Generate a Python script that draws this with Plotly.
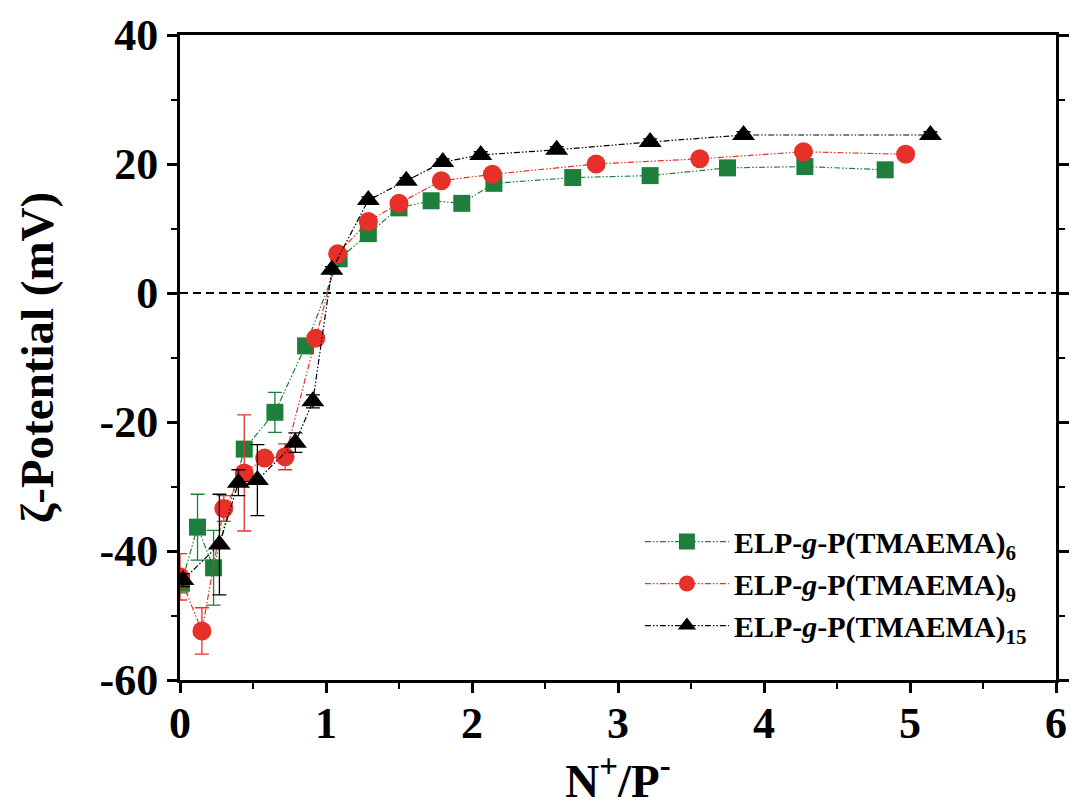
import plotly.graph_objects as go

# ---- data ----
x6 = [0.01, 0.12, 0.23, 0.44, 0.65, 0.86, 1.09, 1.29, 1.50, 1.72, 1.93, 2.15, 2.69, 3.22, 3.75, 4.28, 4.83]
y6 = [-45.0, -36.3, -42.6, -24.2, -18.5, -8.2, 5.3, 9.2, 13.2, 14.3, 13.9, 17.0, 17.9, 18.2, 19.4, 19.6, 19.1]
e6 = [1.5, 5.1, 5.8, 1.0, 3.1, 0.8, 0.5, 0.5, 0.5, 0.5, 0.5, 0.5, 0.5, 0.5, 0.5, 0.5, 0.5]

x9 = [0.00, 0.15, 0.30, 0.44, 0.58, 0.72, 0.93, 1.08, 1.29, 1.50, 1.79, 2.14, 2.85, 3.56, 4.27, 4.97]
y9 = [-44.0, -52.4, -33.4, -27.9, -25.6, -25.4, -7.0, 6.1, 11.1, 13.9, 17.4, 18.4, 20.0, 20.8, 21.9, 21.5]
e9 = [3.6, 3.6, 2.0, 9.0, 1.0, 2.0, 0.8, 0.5, 0.5, 0.5, 0.5, 0.5, 0.5, 0.5, 0.5, 0.5]

x15 = [0.02, 0.27, 0.40, 0.53, 0.79, 0.91, 1.04, 1.29, 1.55, 1.80, 2.06, 2.58, 3.22, 3.86, 5.14]
y15 = [-44.5, -39.0, -29.4, -29.0, -23.2, -16.8, 3.6, 14.4, 17.4, 20.3, 21.4, 22.2, 23.4, 24.5, 24.5]
e15 = [1.0, 7.8, 2.0, 5.5, 1.5, 1.0, 0.5, 0.5, 0.5, 0.5, 0.5, 0.5, 0.5, 0.5, 0.5]

names = ["ELP-<i>g</i>-P(TMAEMA)<sub>6</sub>",
         "ELP-<i>g</i>-P(TMAEMA)<sub>9</sub>",
         "ELP-<i>g</i>-P(TMAEMA)<sub>15</sub>"]

x_ticks = [0, 1, 2, 3, 4, 5, 6]
x_ticklabels = ["0", "1", "2", "3", "4", "5", "6"]
y_ticks = [-60, -40, -20, 0, 20, 40]
y_ticklabels = ["-60", "-40", "-20", "0", "20", "40"]

colors = ["#1e7f3c", "#e8302a", "#000000"]
symbols = ["square", "circle", "triangle-up"]
sizes = [17, 19, 20]

FONT = "Liberation Serif"

fig = go.Figure()
for xs, ys, es, nm, c, sym, sz in zip([x6, x9, x15], [y6, y9, y15], [e6, e9, e15],
                                      names, colors, symbols, sizes):
    fig.add_trace(go.Scatter(
        x=xs, y=ys, mode="lines+markers", name=nm,
        line=dict(color=c, width=1.2, dash="6px,2px,1.5px,2px,1.5px,2px"),
        marker=dict(symbol=sym, size=sz, color=c, line=dict(width=0)),
        error_y=dict(type="data", array=es, visible=True, color=c,
                     thickness=1.3, width=7),
    ))

fig.add_hline(y=0, line=dict(color="black", width=1.8, dash="8px,5px"), layer="below")

tickfont = dict(family=FONT, size=44, color="black", weight="bold")
titlefont = dict(family=FONT, size=47, color="black", weight="bold")

fig.update_xaxes(range=[0, 6], tickmode="array", tickvals=x_ticks,
                 ticktext=["<b>%s</b>" % t for t in x_ticklabels],
                 showline=True, linecolor="black", linewidth=3, mirror=True,
                 ticks="outside", ticklen=10, tickwidth=2.5, tickcolor="black",
                 showgrid=False, zeroline=False, tickfont=tickfont,
                 ticklabelstandoff=-8,
                 minor=dict(ticks="outside", ticklen=6, tickwidth=2, dtick=0.5,
                            tick0=0, tickcolor="black"),
                 title=dict(text="<b>N<sup>+</sup>/P<sup>-</sup></b>", standoff=0,
                            font=titlefont))
fig.update_yaxes(range=[-60, 40], tickmode="array", tickvals=y_ticks,
                 ticktext=["<b>%s</b>" % t for t in y_ticklabels],
                 showline=True, linecolor="black", linewidth=3, mirror="ticks",
                 ticks="outside", ticklen=10, tickwidth=2.5, tickcolor="black",
                 showgrid=False, zeroline=False, tickfont=tickfont,
                 minor=dict(ticks="outside", ticklen=6, tickwidth=2, dtick=10,
                            tick0=0, tickcolor="black"),
                 title=dict(text="<b>ζ-Potential (mV)</b>", standoff=32,
                            font=titlefont))

fig.update_layout(
    width=1074, height=808,
    margin=dict(l=180, r=5, t=35, b=128),
    paper_bgcolor="white", plot_bgcolor="white",
    font=dict(family=FONT, color="black"),
    showlegend=True,
    legend=dict(x=0.525, y=0.255, xanchor="left", yanchor="top",
                bgcolor="rgba(0,0,0,0)", itemwidth=84, tracegroupgap=0,
                font=dict(family=FONT, size=30, color="black", weight="bold")),
)

fig.write_html("out.html", config={"displayModeBar": False},
               post_script="document.body.style.margin='0px';")
